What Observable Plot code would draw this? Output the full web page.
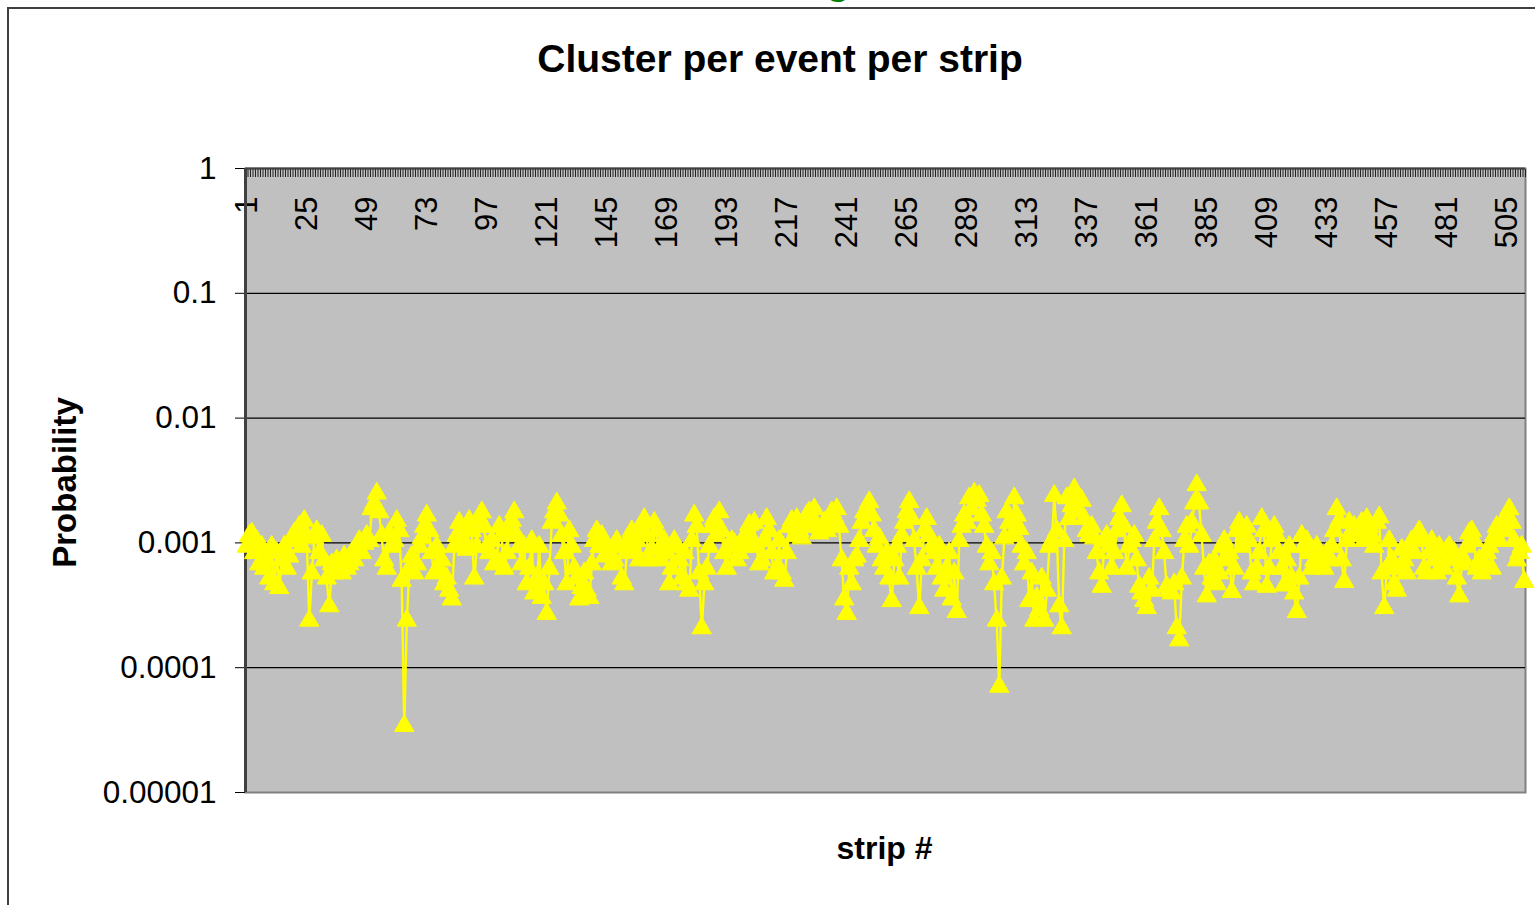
<!DOCTYPE html>
<html>
<head>
<meta charset="utf-8">
<script src="https://cdn.jsdelivr.net/npm/d3@7"></script>
<script src="https://cdn.jsdelivr.net/npm/@observablehq/plot@0.6"></script>
<style>
  html, body { margin: 0; padding: 0; background: #fff; overflow: hidden; width: 1535px; height: 905px; }
  #wrap { position: relative; width: 1535px; height: 905px; font-family: "Liberation Sans", Arial, sans-serif; }
  #border { position: absolute; left: 7px; top: 7px; width: 1600px; height: 1000px; border-left: 2px solid #404040; border-top: 2px solid #404040; }
  #title { position: absolute; left: 0; width: 1560px; top: 36px; text-align: center; font-weight: bold; font-size: 39px; line-height: 46px; color: #000; }
  #topg { position: absolute; left: 826px; top: -40px; font-weight: bold; font-size: 40px; line-height: 40px; color: #008000; }
  #chart { position: absolute; left: 0; top: 0; }
</style>
</head>
<body>
<div id="wrap">
  <div id="topg">g</div>
  <div id="border"></div>
  <div id="title">Cluster per event per strip</div>
  <div id="chart"></div>
</div>
<script>
// Probability (clusters per event) for strips 1..512
const clusterProb = [
  9e-4,1.1e-3,1.15e-3,8e-4,1e-3,6.5e-4,9e-4,6e-4,7e-4,5e-4,
  9e-4,4.5e-4,8e-4,4.2e-4,7e-4,9e-4,6e-4,7.5e-4,1.05e-3,1.15e-3,
  1e-3,1.3e-3,9e-4,1.45e-3,1.1e-3,2.3e-4,5.5e-4,1.05e-3,1.2e-3,8e-4,
  1.1e-3,7e-4,5e-4,3e-4,6.5e-4,5.5e-4,7e-4,6e-4,5.5e-4,7.5e-4,
  6e-4,6.5e-4,8e-4,7e-4,9e-4,1e-3,8e-4,9.5e-4,1.1e-3,1e-3,
  1.8e-3,2e-3,2.4e-3,1.7e-3,1.1e-3,7e-4,6e-4,1.15e-3,9e-4,1e-3,
  1.45e-3,1.2e-3,4.8e-4,3.3e-5,2.3e-4,6e-4,7.5e-4,5.5e-4,6.5e-4,9e-4,
  1.05e-3,1.3e-3,1.6e-3,1.2e-3,8e-4,5.5e-4,9e-4,6e-4,7e-4,4.5e-4,
  5e-4,4e-4,3.4e-4,9e-4,1.1e-3,1.4e-3,1.25e-3,1e-3,8.5e-4,1.45e-3,
  1.2e-3,5e-4,9e-4,1.5e-3,1.7e-3,1.3e-3,9e-4,8e-4,1e-3,6.5e-4,
  7e-4,1.3e-3,1.1e-3,6e-4,8e-4,1.2e-3,1.45e-3,1.7e-3,1.1e-3,9e-4,
  6.5e-4,9e-4,4.5e-4,6e-4,1e-3,3.8e-4,5e-4,9e-4,3.5e-4,4.5e-4,
  2.6e-4,6e-4,1.4e-3,1.7e-3,2e-3,1.6e-3,1.1e-3,8e-4,4.5e-4,1.2e-3,
  9e-4,6e-4,5e-4,3.4e-4,4.2e-4,5.5e-4,4e-4,3.5e-4,6.5e-4,1e-3,
  1.2e-3,9e-4,1.1e-3,7.5e-4,9e-4,8e-4,6.5e-4,7e-4,1e-3,9e-4,
  5e-4,4.5e-4,8e-4,1.05e-3,1.2e-3,8.5e-4,1e-3,7e-4,1.3e-3,1.5e-3,
  1.1e-3,7e-4,8.5e-4,1.4e-3,1.2e-3,7e-4,9e-4,1e-3,8e-4,4.5e-4,
  6e-4,1e-3,9e-4,7e-4,5e-4,8e-4,4.5e-4,4e-4,1e-3,1.6e-3,
  1.3e-3,5.5e-4,2e-4,4.5e-4,6e-4,9e-4,1.3e-3,1.5e-3,1.1e-3,1.7e-3,
  1.2e-3,8e-4,6e-4,9e-4,1e-3,9.5e-4,7e-4,8e-4,1e-3,9e-4,
  1.1e-3,1.35e-3,1e-3,1.4e-3,9e-4,6.5e-4,7e-4,1e-3,1.5e-3,1.2e-3,
  8e-4,5.5e-4,6e-4,1e-3,5.5e-4,4.8e-4,8e-4,1.3e-3,1.45e-3,1.1e-3,
  1.5e-3,1.2e-3,1.05e-3,1.3e-3,1.6e-3,1.7e-3,1.5e-3,1.8e-3,1.3e-3,1.15e-3,
  1.25e-3,1.4e-3,1.2e-3,1.5e-3,1.7e-3,1.55e-3,1.8e-3,1.3e-3,7e-4,3.4e-4,
  2.6e-4,6e-4,4.5e-4,7e-4,7.5e-4,1e-3,1.4e-3,1.7e-3,1.6e-3,2.05e-3,
  1.6e-3,1.2e-3,9e-4,1.05e-3,7e-4,6e-4,8e-4,5e-4,3.3e-4,7e-4,
  9e-4,5e-4,1.1e-3,1.4e-3,1.7e-3,2.05e-3,1.5e-3,1e-3,6e-4,2.9e-4,
  7e-4,1.2e-3,1.5e-3,1.1e-3,9e-4,8e-4,6e-4,9e-4,5e-4,4e-4,
  6e-4,8e-4,3.4e-4,5.5e-4,2.7e-4,1e-3,1.3e-3,1.6e-3,1.4e-3,2.2e-3,
  1.8e-3,2.4e-3,2.1e-3,2.3e-3,1.6e-3,1.3e-3,9e-4,6.5e-4,8e-4,4.5e-4,
  2.3e-4,6.8e-5,5e-4,1.05e-3,1.7e-3,1.4e-3,1.1e-3,2.2e-3,1.6e-3,1.25e-3,
  9e-4,6.5e-4,8e-4,3.3e-4,5.5e-4,2.3e-4,3.5e-4,2.8e-4,5e-4,2.3e-4,
  4e-4,9e-4,1e-3,2.3e-3,1.2e-3,3e-4,2e-4,1e-3,2.2e-3,1.5e-3,
  1.9e-3,2.6e-3,2.2e-3,1.7e-3,2.1e-3,1.5e-3,1.2e-3,1.1e-3,1.3e-3,1.05e-3,
  8e-4,5.5e-4,4.3e-4,1e-3,1.1e-3,9e-4,6e-4,8e-4,1.2e-3,1.5e-3,
  1.9e-3,1.3e-3,6e-4,9e-4,1e-3,1.1e-3,7e-4,4.3e-4,3.8e-4,3.3e-4,
  2.9e-4,5e-4,4e-4,1e-3,1.4e-3,1.8e-3,1.2e-3,8e-4,4.3e-4,4e-4,
  3.8e-4,4.5e-4,2e-4,1.6e-4,5e-4,1e-3,1.3e-3,9e-4,1.4e-3,2e-3,
  2.8e-3,2e-3,1.1e-3,6e-4,3.6e-4,6.5e-4,5e-4,7e-4,4.5e-4,5.5e-4,
  9e-4,1e-3,7e-4,8e-4,3.9e-4,6e-4,1.2e-3,1.4e-3,9e-4,1.1e-3,
  1.3e-3,1e-3,5.5e-4,4.5e-4,6e-4,8e-4,1.5e-3,1.2e-3,4.3e-4,6e-4,
  1e-3,1.3e-3,1.1e-3,8e-4,6e-4,4.4e-4,7e-4,9e-4,5e-4,3.8e-4,
  2.7e-4,5e-4,1.1e-3,9e-4,1e-3,8e-4,6e-4,7e-4,9e-4,8e-4,
  6.5e-4,6e-4,8e-4,7e-4,9e-4,1.2e-3,1.8e-3,1.45e-3,7e-4,4.7e-4,
  1e-3,1.4e-3,1.2e-3,1.3e-3,1.1e-3,1.3e-3,1.4e-3,1e-3,1.5e-3,1.3e-3,
  1.1e-3,9e-4,1.4e-3,1.55e-3,5.5e-4,2.9e-4,6e-4,1e-3,7e-4,4.5e-4,
  4e-4,6e-4,8.5e-4,7e-4,5.5e-4,9e-4,1e-3,8e-4,1.1e-3,1.2e-3,
  1.05e-3,6e-4,5.5e-4,8e-4,1e-3,7e-4,5.5e-4,9e-4,8e-4,6e-4,
  8.5e-4,9e-4,7e-4,8e-4,5e-4,3.6e-4,6.5e-4,7e-4,9e-4,1.15e-3,
  1.2e-3,1e-3,6e-4,7e-4,5.5e-4,6.5e-4,8e-4,9e-4,6e-4,1.1e-3,
  1.3e-3,1e-3,1.3e-3,1.5e-3,1.2e-3,1.8e-3,1.4e-3,1e-3,7e-4,8e-4,
  9e-4,4.7e-4
];
const strips = clusterProb.map((_, i) => i + 1);
const xTickLabels = [1,25,49,73,97,121,145,169,193,217,241,265,289,313,337,361,385,409,433,457,481,505];
const yTicks = [1, 0.1, 0.01, 0.001, 0.0001, 0.00001];
const yTickLabels = ["1", "0.1", "0.01", "0.001", "0.0001", "0.00001"];
const gridValues = [0.1, 0.01, 0.001, 0.0001];

const data = strips.map((s, i) => ({strip: s, p: clusterProb[i]}));
const yLabelMap = new Map(yTicks.map((v, i) => [v, yTickLabels[i]]));
const nStrips = strips.length;
const boundaries = d3.range(0, nStrips + 1).map(i => i + 0.5);

const chart = Plot.plot({
  width: 1535,
  height: 905,
  marginLeft: 245,
  marginRight: 10,
  marginTop: 168,
  marginBottom: 113,
  style: {fontFamily: "'Liberation Sans', Arial, sans-serif", fontSize: "31px", background: "transparent", overflow: "visible"},
  x: {type: "linear", domain: [0.5, nStrips + 0.5], axis: null},
  y: {type: "log", domain: [0.00001, 1], axis: null},
  marks: [
    Plot.frame({fill: "#C0C0C0", stroke: "#808080", strokeWidth: 2}),
    Plot.ruleY(gridValues, {stroke: "#000", strokeWidth: 1.3}),
    Plot.axisY({ticks: yTicks, tickFormat: d => yLabelMap.get(d), tickSize: 10, tickPadding: 19, fontSize: 31.5, label: null, stroke: "#000"}),
    Plot.axisX({anchor: "top", ticks: boundaries, tickSize: -8, tickFormat: () => "", label: null, stroke: "#222", strokeWidth: 1}),
    Plot.text(xTickLabels, {x: d => d, text: d => String(d), frameAnchor: "top", rotate: -90, textAnchor: "end", lineAnchor: "middle", dy: 28, fontSize: 31, fill: "#000"}),
    Plot.ruleY([1], {stroke: "#404040", strokeWidth: 2}),
    Plot.ruleX([0.5], {stroke: "#404040", strokeWidth: 3}),
    Plot.line(data, {x: "strip", y: "p", stroke: "#FFFF00", strokeWidth: 2.4}),
    Plot.dot(data, {x: "strip", y: "p", symbol: "triangle", r: 7.2, fill: "#FFFF00", stroke: "#FFFF00", strokeWidth: 1, dy: -2}),
    Plot.text(["Probability"], {frameAnchor: "left", text: d => d, rotate: -90, textAnchor: "middle", lineAnchor: "middle", dx: -180, dy: 2, fontSize: 33, fontWeight: "bold", fill: "#000"}),
    Plot.text(["strip #"], {frameAnchor: "bottom", text: d => d, textAnchor: "middle", lineAnchor: "middle", dy: 56, dx: -1, fontSize: 32, fontWeight: "bold", fill: "#000"})
  ]
});
document.getElementById("chart").appendChild(chart);
</script>
</body>
</html>
